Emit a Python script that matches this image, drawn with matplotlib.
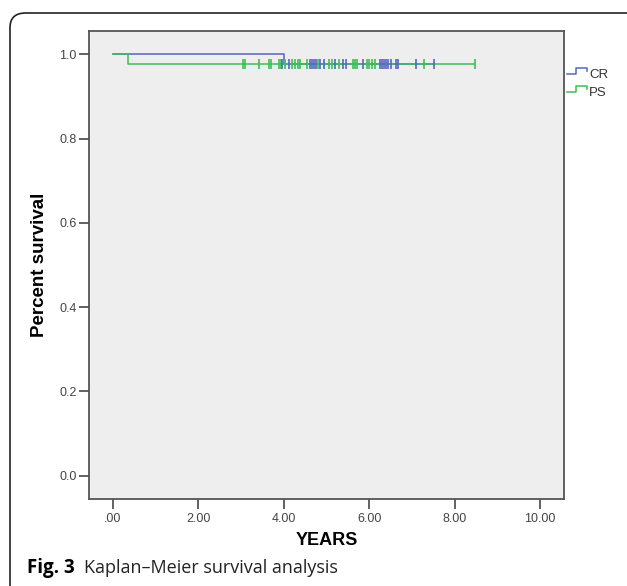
import matplotlib
matplotlib.use("Agg")
import matplotlib.pyplot as plt
from matplotlib.patches import FancyBboxPatch
from matplotlib.lines import Line2D
import numpy as np

# ---- Datos ------------------------------------------------------------------
cr_times = [0.0, 4.0, 7.52]
cr_surv  = [1.0, 0.977, 0.977]
cr_censor = [3.96, 4.12, 4.61, 4.67, 4.71, 4.75, 4.85, 4.95, 5.20, 5.39, 5.45,
             5.85, 6.25, 6.30, 6.35, 6.40, 6.45, 6.50, 6.62, 6.67, 7.10, 7.52]

ps_times = [0.0, 0.35, 8.47]
ps_surv  = [1.0, 0.977, 0.977]
ps_censor = [3.04, 3.10, 3.42, 3.65, 3.70, 3.88, 3.93, 4.03, 4.20, 4.27, 4.33,
             4.38, 4.55, 4.80, 5.06, 5.12, 5.30, 5.62, 5.66, 5.71, 5.95, 6.00,
             6.07, 6.14, 7.28, 8.47]

groups = ["CR", "PS"]
x_ticks = [0, 2, 4, 6, 8, 10]
x_labels = [".00", "2.00", "4.00", "6.00", "8.00", "10.00"]
y_ticks = [0.0, 0.2, 0.4, 0.6, 0.8, 1.0]
y_labels = ["0.0", "0.2", "0.4", "0.6", "0.8", "1.0"]

BLUE  = "#5566C4"
GREEN = "#3DBE55"
TICKC = "#555555"
AXFONT = "Liberation Sans"

fig = plt.figure(figsize=(6.27, 5.86), dpi=100)

# marco redondeado de la tarjeta
card = FancyBboxPatch((10 / 627, -0.05), 1.1, (586 - 13) / 586 + 0.05,
                      boxstyle="round,pad=0,rounding_size=0.025",
                      transform=fig.transFigure, facecolor="white",
                      edgecolor="#222222", linewidth=1.2, zorder=0)
fig.patches.append(card)

ax = fig.add_axes([89 / 627, 87 / 586, 475 / 627, 468 / 586])
ax.set_zorder(2)
ax.set_facecolor("#EEEEEE")
for sp in ax.spines.values():
    sp.set_color("#555555")
    sp.set_linewidth(1.3)

ax.step(cr_times, cr_surv, where="post", color=BLUE, lw=1.1, zorder=3)
ax.step(ps_times, ps_surv, where="post", color=GREEN, lw=1.1, zorder=4)
ax.plot(ps_censor, np.interp(ps_censor, ps_times, ps_surv), ls="none",
        marker="|", ms=7, mew=1.2, color=GREEN, zorder=4)
ax.plot(cr_censor, [0.977] * len(cr_censor), ls="none",
        marker="|", ms=7, mew=1.2, color=BLUE, zorder=5)

ax.set_xlim(-0.56, 10.56)
ax.set_ylim(-0.055, 1.055)
ax.set_xticks(x_ticks)
ax.set_xticklabels(x_labels, family=AXFONT)
ax.set_yticks(y_ticks)
ax.set_yticklabels(y_labels, family=AXFONT)
ax.tick_params(axis="both", direction="out", length=7, width=1.3,
               color=TICKC, labelcolor="#444444", labelsize=9)
ax.tick_params(axis="x", pad=3)
ax.tick_params(axis="y", pad=2)

ax.set_xlabel("YEARS", fontsize=13, fontweight="bold", labelpad=5,
              family=AXFONT)
ax.set_ylabel("Percent survival", fontsize=13.5, fontweight="bold",
              labelpad=8, family=AXFONT)

# leyenda estilo SPSS con icono escalonado
for i, (g, c) in enumerate(zip(groups, [BLUE, GREEN])):
    y0 = (586 - 74 - i * 18) / 586
    xs = np.array([567, 576, 576, 587, 587]) / 627
    ys = y0 + np.array([0, 0, 6, 6, 3]) / 586
    fig.add_artist(Line2D(xs, ys, color=c, lw=1.1, transform=fig.transFigure))
    fig.text(589 / 627, y0 - 1 / 586, g, fontsize=9.5, color="#333333",
             va="center", ha="left", family=AXFONT)

fig.text(27 / 627, (586 - 568) / 586, "Fig. 3", fontsize=13.5,
         fontweight="bold", va="center", ha="left", family="Open Sans")
fig.text(84 / 627, (586 - 568) / 586, "Kaplan\u2013Meier survival analysis",
         fontsize=13, va="center", ha="left", family="Open Sans",
         color="#222222")

fig.savefig("out.png", dpi=100)
